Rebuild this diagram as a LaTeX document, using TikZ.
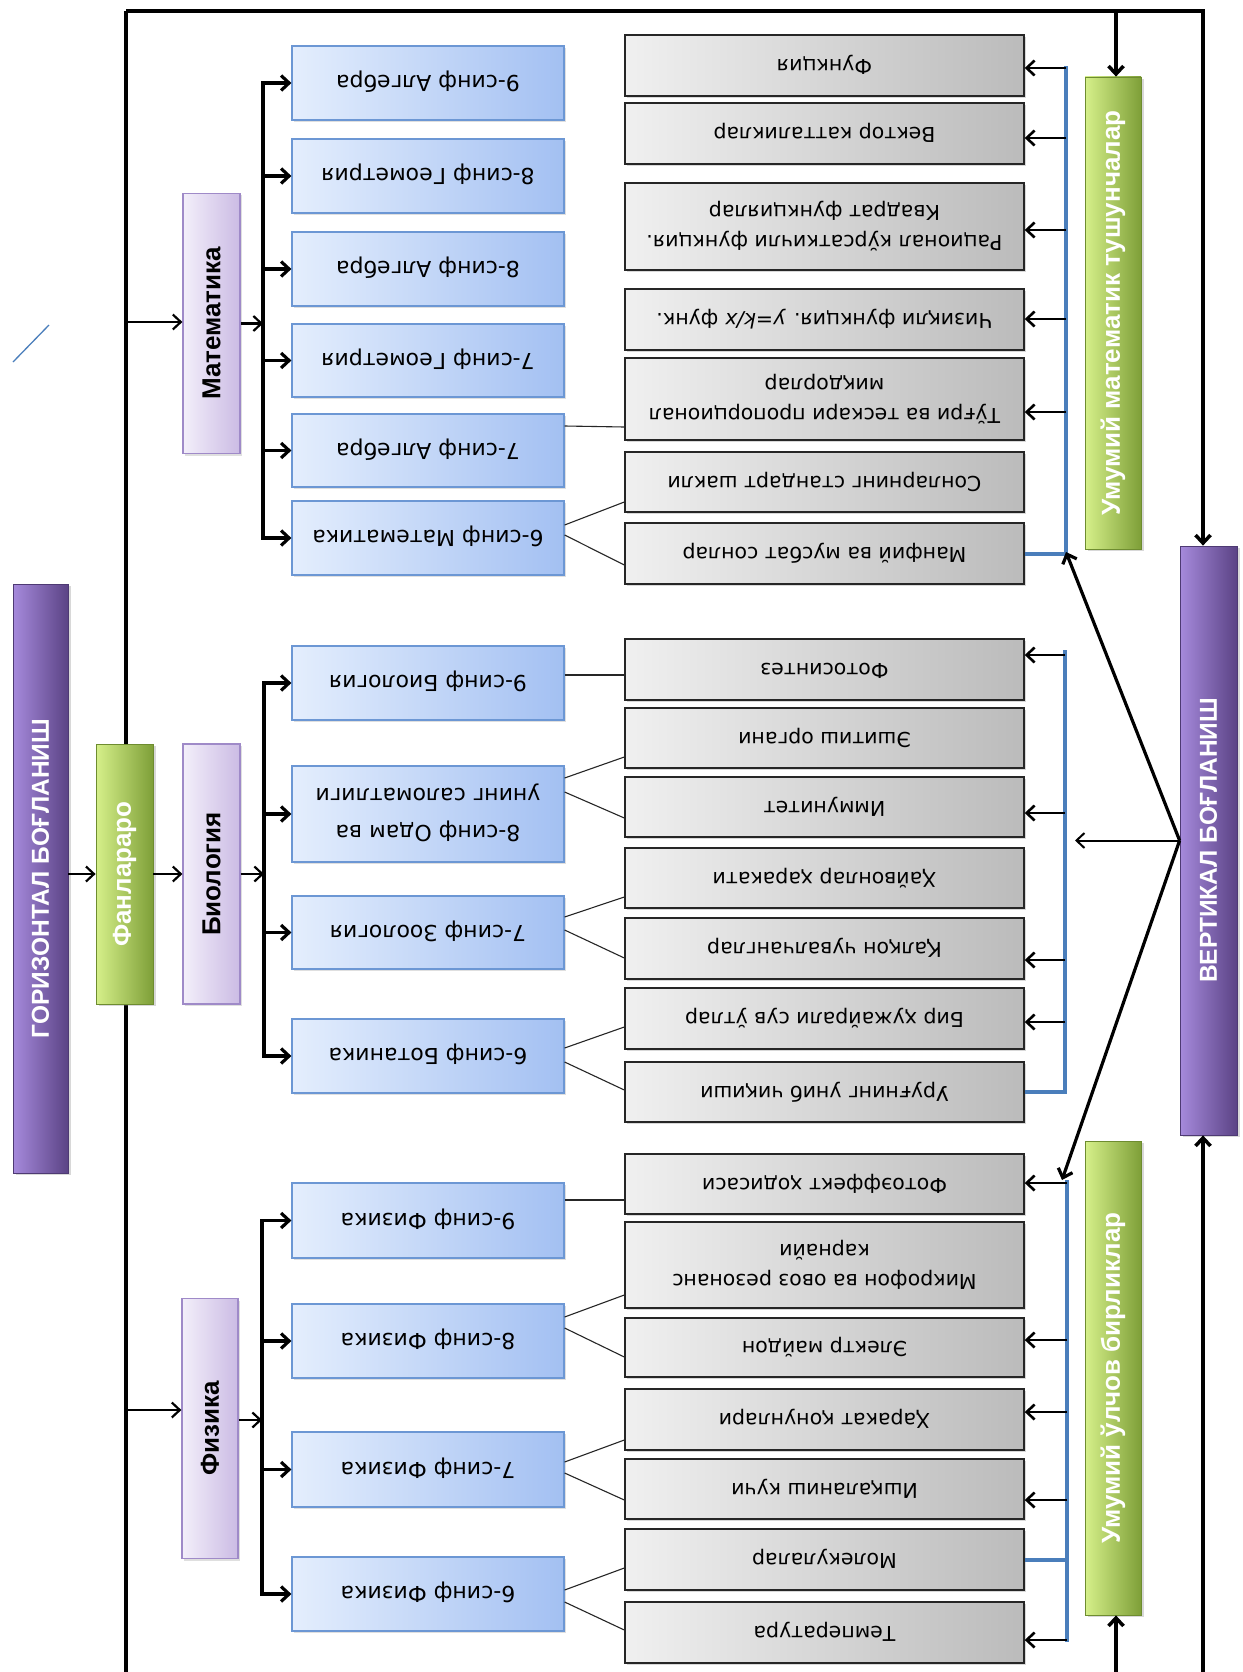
\documentclass[tikz,border=0pt]{standalone}
\usepackage{fontspec}
\usepackage{graphicx}
\setmainfont{DejaVu Sans}
\newfontfamily\labfont{Liberation Sans}
\usetikzlibrary{arrows.meta,shadows}
\definecolor{bbl}{HTML}{E4EEFD}
\definecolor{bbr}{HTML}{A3C0F2}
\definecolor{bbd}{HTML}{6C97D4}
\definecolor{gyl}{HTML}{F0F0F0}
\definecolor{gyr}{HTML}{BBBBBB}
\definecolor{pul}{HTML}{F3EFFA}
\definecolor{pur}{HTML}{CBBBE4}
\definecolor{pud}{HTML}{9F8AC8}
\definecolor{grl}{HTML}{D6F08A}
\definecolor{grr}{HTML}{7E9F38}
\definecolor{grd}{HTML}{6E8C30}
\definecolor{vil}{HTML}{A68ADC}
\definecolor{vir}{HTML}{5B4385}
\definecolor{vid}{HTML}{4E3A73}
\definecolor{lbl}{HTML}{4A7EBB}
\newcommand{\ud}[1]{\rotatebox{180}{\begin{tabular}{@{}c@{}}#1\end{tabular}}}
\newcommand{\vt}[1]{\rotatebox{90}{#1}}
\tikzset{
  gbox/.style={draw=black!85, line width=1.4pt, left color=gyl, right color=gyr,
    minimum width=399pt, inner sep=0pt, font=\fontsize{20.5}{30}\selectfont,
    drop shadow={opacity=0.3,shadow xshift=2pt,shadow yshift=-2pt}},
  bbox/.style={draw=bbd, line width=1.2pt, left color=bbl, right color=bbr,
    minimum width=272pt, inner sep=0pt, font=\fontsize{22}{37}\selectfont,
    drop shadow={opacity=0.25,shadow xshift=2pt,shadow yshift=-2pt}},
  subj/.style={draw=pud, line width=1.2pt, left color=pul, right color=pur,
    minimum width=57pt, minimum height=260pt, inner sep=0pt,
    font=\labfont\bfseries\fontsize{26}{28}\selectfont,
    drop shadow={opacity=0.25,shadow xshift=2pt,shadow yshift=-2pt}},
  gcat/.style={draw=grd, line width=0.8pt, left color=grl, right color=grr, text=white,
    minimum width=56pt, inner sep=0pt, font=\labfont\bfseries\fontsize{26}{28}\selectfont,
    drop shadow={opacity=0.3,shadow xshift=3pt,shadow yshift=-2pt}},
  pcat/.style={draw=vid, line width=0.8pt, left color=vil, right color=vir, text=white,
    minimum width=56pt, minimum height=589pt, inner sep=0pt,
    font=\labfont\bfseries\fontsize{24.5}{28}\selectfont,
    drop shadow={opacity=0.3,shadow xshift=3pt,shadow yshift=-2pt}},
  arr/.style={-{Straight Barb[length=8pt,width=15pt]}},
  frame/.style={line width=3.5pt, black},
  brk/.style={line width=3.2pt, black},
  mid/.style={line width=2.2pt, black},
  sarr/.style={line width=2.6pt, black, -{Straight Barb[length=8pt,width=15pt]}},
  tl/.style={line width=1.1pt, black!85},
  blu/.style={line width=4pt, lbl},
}
\begin{document}
\begin{tikzpicture}[x=1pt,y=-1pt]
\fill[white] (0,0) rectangle (1242,1672);
\useasboundingbox (0,0) rectangle (1242,1672);
\coordinate (TL) at (126,11);
\coordinate (TR) at (1203,11);
\coordinate (BL) at (126,1672);
\coordinate (BR) at (1203,1672);
\coordinate (TM) at (1116,11);
\coordinate (BM) at (1116,1672);
\draw[line width=4.5pt] (BL) -- (TL);
% stray stroke
\draw[lbl, line width=1.3pt] (13,362) -- (49,325);

% gray boxes
\node[gbox, minimum height=61pt] (G1) at (824.5,65.5) {\ud{Функция}};
\node[gbox, minimum height=61pt] (G2) at (824.5,133.5) {\ud{Вектор катталиклар}};
\node[gbox, minimum height=87pt] (G3) at (824.5,226.5) {\ud{Рационал кўрсаткичли функция.\\Квадрат функциялар}};
\node[gbox, minimum height=61pt] (G4) at (824.5,319.5) {\ud{Чизиқли функция. \textit{y=k/x} функ.}};
\node[gbox, minimum height=82pt] (G5) at (824.5,399) {\ud{Тўғри ва тескари пропорционал\\миқдорлар}};
\node[gbox, minimum height=60pt] (G6) at (824.5,482) {\ud{Сонларнинг стандарт шакли}};
\node[gbox, minimum height=61pt] (G7) at (824.5,553.5) {\ud{Манфий ва мусбат сонлар}};
\node[gbox, minimum height=61pt] (G8) at (824.5,669.5) {\ud{Фотосинтез}};
\node[gbox, minimum height=60pt] (G9) at (824.5,738) {\ud{Эшитиш органи}};
\node[gbox, minimum height=60pt] (G10) at (824.5,807) {\ud{Иммунитет}};
\node[gbox, minimum height=60pt] (G11) at (824.5,878) {\ud{Ҳайвонлар ҳаракати}};
\node[gbox, minimum height=61pt] (G12) at (824.5,948.5) {\ud{Қалқон чувалчанглар}};
\node[gbox, minimum height=61pt] (G13) at (824.5,1018.5) {\ud{Бир ҳужайрали сув ўтлар}};
\node[gbox, minimum height=60pt] (G14) at (824.5,1092) {\ud{Уруғнинг униб чиқиши}};
\node[gbox, minimum height=60pt] (G15) at (824.5,1184) {\ud{Фотоэффект ҳодисаси}};
\node[gbox, minimum height=86pt] (G16) at (824.5,1265) {\ud{Микрофон ва овоз резонанс\\карнайи}};
\node[gbox, minimum height=59pt] (G17) at (824.5,1347.5) {\ud{Электр майдон}};
\node[gbox, minimum height=61pt] (G18) at (824.5,1419.5) {\ud{Ҳаракат қонунлари}};
\node[gbox, minimum height=60pt] (G19) at (824.5,1489) {\ud{Ишқаланиш кучи}};
\node[gbox, minimum height=61pt] (G20) at (824.5,1559.5) {\ud{Молекулалар}};
\node[gbox, minimum height=61pt] (G21) at (824.5,1632.5) {\ud{Температура}};

% blue boxes
\node[bbox, minimum height=74pt] (B1) at (428,83) {\ud{9-синф Алгебра}};
\node[bbox, minimum height=74pt] (B2) at (428,176) {\ud{8-синф Геометрия}};
\node[bbox, minimum height=74pt] (B3) at (428,269) {\ud{8-синф Алгебра}};
\node[bbox, minimum height=73pt] (B4) at (428,360.5) {\ud{7-синф Геометрия}};
\node[bbox, minimum height=73pt] (B5) at (428,450.5) {\ud{7-синф Алгебра}};
\node[bbox, minimum height=74pt] (B6) at (428,538) {\ud{6-синф Математика}};
\node[bbox, minimum height=74pt] (B7) at (428,683) {\ud{9-синф Биология}};
\node[bbox, minimum height=96pt] (B8) at (428,814) {\ud{8-синф Одам ва\\унинг саломатлиги}};
\node[bbox, minimum height=73pt] (B9) at (428,932.5) {\ud{7-синф Зоология}};
\node[bbox, minimum height=74pt] (B10) at (428,1056) {\ud{6-синф Ботаника}};
\node[bbox, minimum height=75pt] (B11) at (428,1220.5) {\ud{9-синф Физика}};
\node[bbox, minimum height=74pt] (B12) at (428,1341) {\ud{8-синф Физика}};
\node[bbox, minimum height=75pt] (B13) at (428,1469.5) {\ud{7-синф Физика}};
\node[bbox, minimum height=74pt] (B14) at (428,1594) {\ud{6-синф Физика}};

% subject boxes
\node[subj] (Mat) at (211.5,323.5) {\vt{Математика}};
\node[subj] (Bio) at (211.5,874) {\vt{Биология}};
\node[subj, minimum width=56pt] (Fiz) at (210,1428.5) {\vt{Физика}};

% category boxes
\node[gcat, minimum height=260pt, minimum width=57pt] (Fan) at (124.5,874) {\vt{Фанлараро}};
\node[pcat, minimum width=55pt] (Gor) at (40.5,878.5) {\vt{ГОРИЗОНТАЛ БОҒЛАНИШ}};
\node[pcat, minimum width=57pt] (Ver) at (1208.5,840.5) {\vt{ВЕРТИКАЛ БОҒЛАНИШ}};
\node[gcat, minimum height=472pt] (UMT) at (1113,313) {\vt{Умумий математик тушунчалар}};
\node[gcat, minimum height=474pt] (UOB) at (1113,1378) {\vt{Умумий ўлчов бирликлар}};

% frame connectors
\draw[frame, arr] (TL) -- (TR) -- (Ver.north -| TR);
\draw[frame, arr] (BR) -- (Ver.south -| BR);
\draw[frame, arr] (TM) -- (UMT.north -| TM);
\draw[frame, arr] (BM) -- (UOB.south -| BM);
\coordinate (LM) at (126,322);
\coordinate (LF) at (126,1410);
\draw[mid, arr] (LM) -- (Mat.west |- LM);
\draw[mid, arr] (LF) -- (Fiz.west |- LF);
\draw[mid, arr] (Gor.east |- Fan.west) -- (Fan.west);
\draw[mid, arr] (Fan.east) -- (Bio.west);

% brackets
\coordinate (MB) at (263,323.5);
\coordinate (BB) at (264,874);
\coordinate (PB) at (262,1420);
\draw[mid, arr] (Mat.east) -- (MB);
\draw[mid, arr] (Bio.east) -- (BB);
\draw[mid, arr] (Fiz.east |- PB) -- (PB);
\draw[brk, line cap=rect] (B1.west -| MB) -- (B6.west -| MB);
\draw[brk, line cap=rect] (B7.west -| BB) -- (B10.west -| BB);
\draw[brk, line cap=rect] (B11.west -| PB) -- (B14.west -| PB);
\foreach \b in {B1,B2,B3,B4,B5,B6} \draw[brk, arr] (\b.west -| MB) -- (\b.west);
\foreach \b in {B7,B8,B9,B10} \draw[brk, arr] (\b.west -| BB) -- (\b.west);
\foreach \b in {B11,B12,B13,B14} \draw[brk, arr] (\b.west -| PB) -- (\b.west);

% blue to gray links
\foreach \b/\yb/\g/\yg in {B5/426/G5/427, B6/525/G6/502, B6/535/G7/565,
  B7/675/G8/675, B8/778/G9/757, B8/792/G10/818, B9/917/G11/897, B9/930/G12/958,
  B10/1048/G13/1027, B10/1062/G14/1090, B11/1200/G15/1200, B12/1317/G16/1295,
  B12/1328/G17/1357, B13/1462/G18/1440, B13/1473/G19/1500, B14/1590/G20/1568,
  B14/1602/G21/1630}
  \draw[tl] (\b.east |- 0,\yb) -- (\g.west |- 0,\yg);

% blue collectors
\draw[blu] (G7.east) -- (G7.east -| 1066,0) -- (1066,66);
\draw[blu] (G14.east) -- (G14.east -| 1065,0) -- (1065,650);
\draw[blu] (G20.east) -- (G20.east -| 1067,0) -- (1067,1642);
\draw[blu] (1067,1559.5) -- (1067,1180);
\foreach \g/\y in {G1/68, G2/138, G3/230, G4/319, G5/412}
  \draw[sarr] (1066,\y) -- (\g.east |- 0,\y);
\foreach \g/\y in {G8/655, G10/813, G12/960, G13/1022}
  \draw[sarr] (1065,\y) -- (\g.east |- 0,\y);
\foreach \g/\y in {G15/1183, G17/1340, G18/1412, G19/1500, G21/1640}
  \draw[sarr] (1067,\y) -- (\g.east |- 0,\y);

% vertical links
\coordinate (MT) at (1066,552);
\coordinate (BT) at (1075,840.5);
\coordinate (PT) at (1062,1180);
\draw[line width=3.2pt, arr] (Ver.west) -- (MT);
\draw[line width=2pt, arr] (Ver.west) -- (BT);
\draw[line width=3.2pt, arr] (Ver.west) -- (PT);
\end{tikzpicture}
\end{document}
